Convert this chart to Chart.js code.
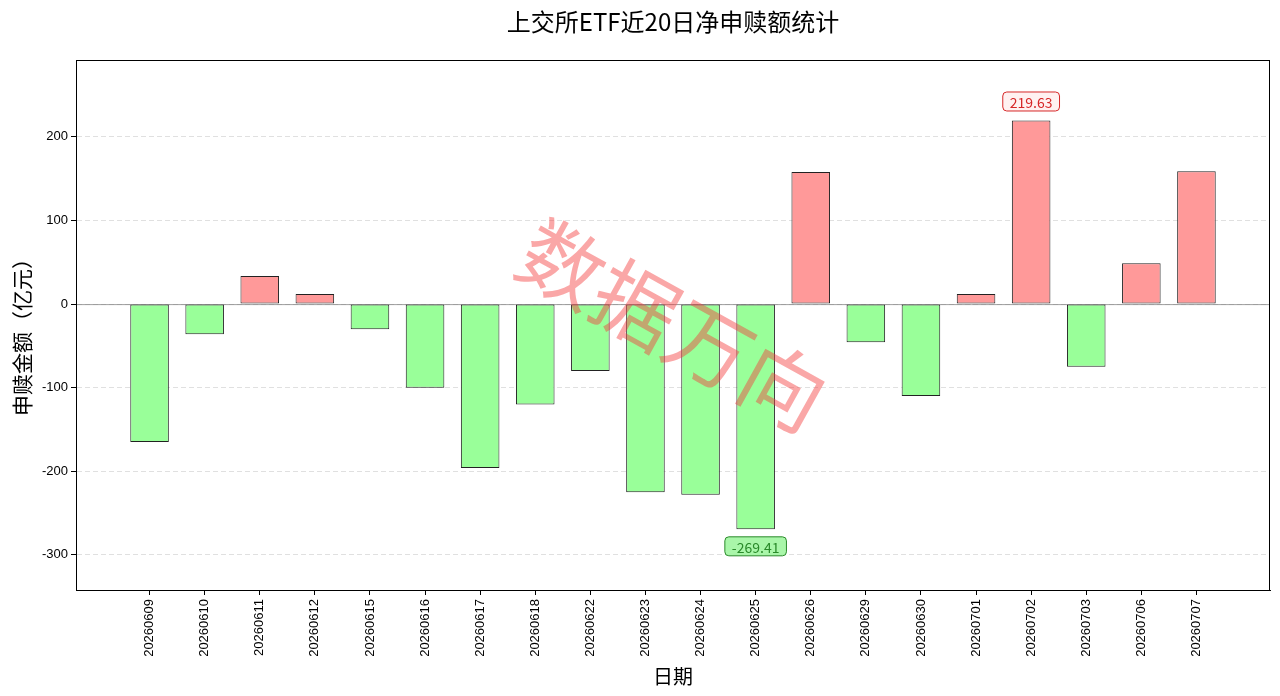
<!DOCTYPE html>
<html>
<head>
  <meta charset="UTF-8">
  <title>上交所ETF近20日净申赎额统计</title>
  <script src="https://cdn.jsdelivr.net/npm/chart.js"></script>
  <style>
    html, body { margin: 0; padding: 0; background: #fff; }
    #box { width: 1280px; height: 696px; }
  </style>
</head>
<body>
<div id="box"><canvas id="myChart"></canvas></div>
<script>
  // 日期 / 净申赎额(亿元)
  var dates = ['20260609', '20260610', '20260611', '20260612', '20260615', '20260616', '20260617',
    '20260618', '20260622', '20260623', '20260624', '20260625', '20260626', '20260629',
    '20260630', '20260701', '20260702', '20260703', '20260706', '20260707'];
  var netFlow = [-165, -36, 33.5, 12, -30, -100, -196, -120, -80, -225, -228, -269.41, 158,
    -45.5, -110, 12, 219.63, -75, 49, 159];
  var yTicks = [-300, -200, -100, 0, 100, 200];

  var cjk = '"Noto Sans CJK SC", "Noto Sans", sans-serif';
  var latin = '"Liberation Sans", "DejaVu Sans", sans-serif';

  var maxIdx = netFlow.indexOf(Math.max.apply(null, netFlow));
  var minIdx = netFlow.indexOf(Math.min.apply(null, netFlow));

  function roundBox(c, x, y, w, h, r) {
    c.beginPath();
    c.moveTo(x + r, y);
    c.lineTo(x + w - r, y);
    c.quadraticCurveTo(x + w, y, x + w, y + r);
    c.lineTo(x + w, y + h - r);
    c.quadraticCurveTo(x + w, y + h, x + w - r, y + h);
    c.lineTo(x + r, y + h);
    c.quadraticCurveTo(x, y + h, x, y + h - r);
    c.lineTo(x, y + r);
    c.quadraticCurveTo(x, y, x + r, y);
    c.closePath();
  }

  var extras = {
    id: 'extras',
    beforeDatasetsDraw: function (chart) {
      var c = chart.ctx, a = chart.chartArea;
      var y0 = chart.scales.y.getPixelForValue(0);
      c.save();
      c.strokeStyle = 'rgba(120,120,120,0.7)';
      c.lineWidth = 1;
      c.beginPath();
      c.moveTo(a.left, y0 + 0.5);
      c.lineTo(a.right, y0 + 0.5);
      c.stroke();
      c.restore();
    },
    afterDatasetsDraw: function (chart) {
      var c = chart.ctx, a = chart.chartArea;
      var bars = chart.getDatasetMeta(0).data;
      c.save();

      // 最大值 / 最小值标注
      function tag(i, color, fill, above) {
        var b = bars[i];
        var txt = netFlow[i].toFixed(2);
        c.font = '14px ' + cjk;
        var w = c.measureText(txt).width + 14, h = 19;
        var cy = above ? b.y - 19 : b.y + 17;
        roundBox(c, b.x - w / 2, cy - h / 2, w, h, 4);
        c.fillStyle = fill;
        c.fill();
        c.strokeStyle = color;
        c.lineWidth = 1;
        c.stroke();
        c.fillStyle = color;
        c.textAlign = 'center';
        c.textBaseline = 'middle';
        c.fillText(txt, b.x, cy + 1);
      }
      tag(maxIdx, '#d62728', 'rgba(255,240,240,0.9)', true);
      tag(minIdx, '#2a8a2a', 'rgba(160,245,160,0.9)', false);

      // 水印
      c.translate((a.left + a.right) / 2, 325);
      c.rotate(29 * Math.PI / 180);
      c.font = '84px ' + cjk;
      c.fillStyle = 'rgba(245,60,60,0.45)';
      c.textAlign = 'center';
      c.textBaseline = 'middle';
      c.fillText('数据万向', 0, 0);
      c.restore();

      // 边框
      c.save();
      c.strokeStyle = '#000';
      c.lineWidth = 1;
      c.strokeRect(a.left + 0.5, a.top + 0.5, a.right - a.left - 1, a.bottom - a.top);
      c.restore();
    },
    afterDraw: function (chart) {
      var c = chart.ctx, a = chart.chartArea;
      var cx = (a.left + a.right) / 2;
      c.save();
      c.fillStyle = '#000';
      c.textAlign = 'center';
      c.textBaseline = 'middle';
      c.font = '24px ' + cjk;
      c.fillText('上交所ETF近20日净申赎额统计', cx, 22);
      c.font = '20px ' + cjk;
      c.fillText('日期', cx, 676);
      c.font = '21px ' + cjk;
      c.translate(22, (a.top + a.bottom) / 2 + 7);
      c.rotate(-Math.PI / 2);
      c.fillText('申赎金额（亿元）', 0, 0);
      c.restore();
    }
  };

  var ctx = document.getElementById('myChart');
  var chart = new Chart(ctx, {
    type: 'bar',
    data: {
      datasets: [{
        data: netFlow.map(function (v, i) { return { x: i, y: v }; }),
        backgroundColor: netFlow.map(function (v) { return v >= 0 ? '#ff9999' : '#99ff99'; }),
        borderColor: '#222',
        borderWidth: 1,
        borderSkipped: false,
        categoryPercentage: 1,
        barPercentage: 0.7
      }]
    },
    options: {
      responsive: true,
      maintainAspectRatio: false,
      animation: false,
      layout: { padding: { top: 60, right: 10, left: 0, bottom: 0 } },
      plugins: {
        legend: { display: false },
        tooltip: { enabled: false }
      },
      scales: {
        x: {
          type: 'linear',
          offset: false,
          min: -1.335,
          max: dates.length - 1 + 1.335,
          afterBuildTicks: function (s) {
            s.ticks = dates.map(function (d, i) { return { value: i }; });
          },
          afterFit: function (s) { s.height = 106; },
          ticks: {
            autoSkip: false,
            minRotation: 90,
            maxRotation: 90,
            padding: 4,
            color: '#000',
            font: { family: latin, size: 13 },
            callback: function (v) { return dates[v]; }
          },
          grid: { offset: false, drawOnChartArea: false, tickLength: 5, tickColor: '#000' },
          border: { color: '#000' }
        },
        y: {
          min: -342,
          max: 292,
          afterBuildTicks: function (s) {
            s.ticks = yTicks.map(function (v) { return { value: v }; });
          },
          afterFit: function (s) { s.width = 76; },
          ticks: {
            padding: 3,
            color: '#000',
            font: { family: latin, size: 13 }
          },
          grid: { color: 'rgba(0,0,0,0.12)', tickColor: '#000', tickLength: 5, tickBorderDash: [] },
          border: { color: '#000', dash: [5, 3] }
        }
      }
    },
    plugins: [extras]
  });
</script>
</body>
</html>
